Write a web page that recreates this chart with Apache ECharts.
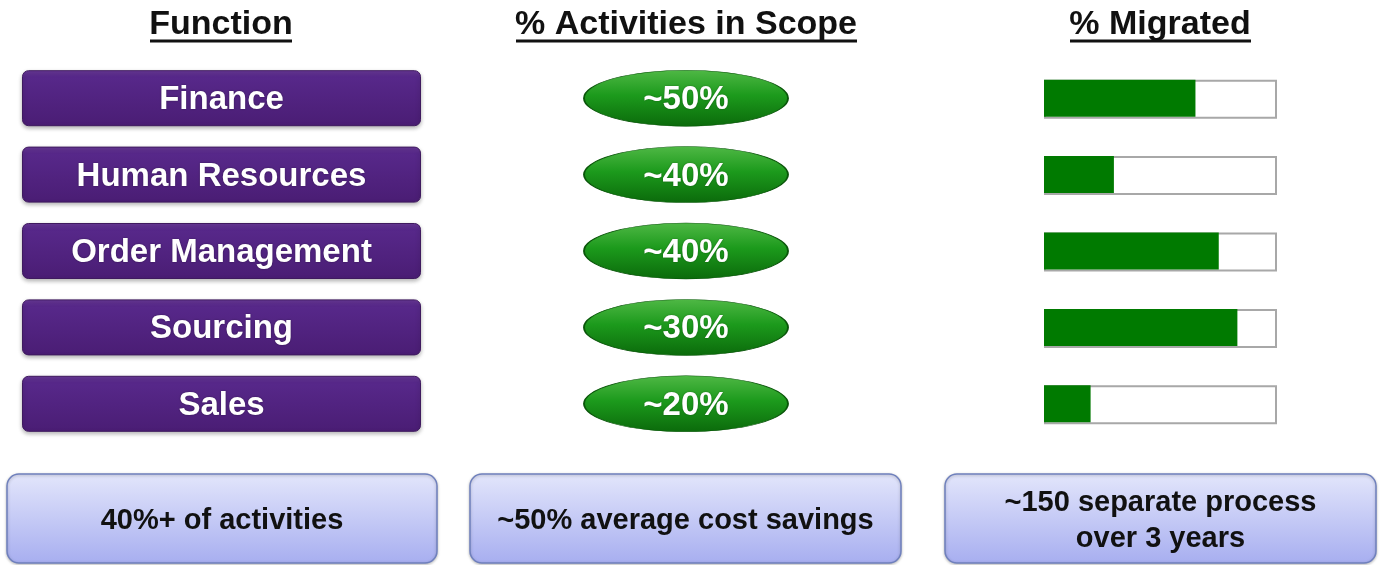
<!DOCTYPE html>
<html>
<head>
<meta charset="utf-8">
<script src="https://cdn.jsdelivr.net/npm/echarts@6/dist/echarts.min.js"></script>
<style>
  html, body { margin: 0; padding: 0; background: #fff; }
  #main { width: 1382px; height: 565px; }
</style>
</head>
<body>
<div id="main"></div>
<script>
// data
var functions = ['Finance', 'Human Resources', 'Order Management', 'Sourcing', 'Sales']
var scopePct = [50, 40, 40, 30, 20]          // % activities in scope (approx.)
var migratedPct = [65, 30, 75, 83, 20]       // % migrated
var headers = ['Function', '% Activities in Scope', '% Migrated']
var notes = ['40%+ of activities', '~50% average cost savings', '~150 separate process\nover 3 years']

var FONT = '"Liberation Sans", Arial, sans-serif'
var rowTop = 60, rowHeight = 382

var chart = echarts.init(document.getElementById('main'))

function hiddenCat(idx) {
  return { gridIndex: idx, type: 'category', data: functions, inverse: true, show: false }
}
function hiddenVal(idx, max) {
  return { gridIndex: idx, type: 'value', min: 0, max: max, show: false }
}

var headerX = [221, 686, 1160]
var underline = [[150, 292], [516, 857], [1070, 1251]]

var graphics = []
headers.forEach(function (h, i) {
  graphics.push({
    type: 'text', x: headerX[i], y: 25,
    style: { text: h, x: 0, y: 0, align: 'center', verticalAlign: 'middle',
             font: 'bold 34px ' + FONT, fill: '#111' }
  })
  graphics.push({
    type: 'line', shape: { x1: underline[i][0], y1: 41, x2: underline[i][1], y2: 41 },
    style: { stroke: '#111', lineWidth: 3 }
  })
})

var noteBoxes = [[7, 430], [470, 431], [945, 431]]
notes.forEach(function (t, i) {
  graphics.push({
    type: 'group', x: noteBoxes[i][0], y: 474,
    children: [
      { type: 'rect', shape: { x: 0, y: 0, width: noteBoxes[i][1], height: 89, r: 12 },
        style: {
          fill: new echarts.graphic.LinearGradient(0, 0, 0, 1, [
            { offset: 0, color: '#e3e6fb' }, { offset: 1, color: '#a7aef0' }
          ]),
          stroke: '#6f80bd', lineWidth: 1.5,
          shadowBlur: 3, shadowColor: 'rgba(0,0,0,0.25)', shadowOffsetY: 1
        } },
      { type: 'text', x: noteBoxes[i][1] / 2, y: 47,
        style: { text: t, x: 0, y: 0, align: 'center', verticalAlign: 'middle',
                 font: 'bold 29px ' + FONT, fill: '#111', lineHeight: 36 } }
    ]
  })
})

chart.setOption({
  animation: false,
  grid: [
    { left: 22, width: 399, top: rowTop, height: rowHeight },
    { left: 584, width: 204, top: rowTop, height: rowHeight },
    { left: 1044, width: 233, top: rowTop, height: rowHeight }
  ],
  xAxis: [hiddenVal(0, 1), hiddenVal(1, 1), hiddenVal(2, 100)],
  yAxis: [hiddenCat(0), hiddenCat(1), hiddenCat(2)],
  graphic: graphics,
  series: [
    {
      // purple function boxes
      type: 'bar', xAxisIndex: 0, yAxisIndex: 0,
      data: functions.map(function () { return 1 }),
      barWidth: 56,
      itemStyle: {
        color: new echarts.graphic.LinearGradient(0, 0, 0, 1, [
          { offset: 0, color: '#6a3a98' }, { offset: 0.12, color: '#57288a' },
          { offset: 1, color: '#4a1d74' }
        ]),
        borderColor: '#3f1a5f', borderWidth: 1, borderRadius: 6,
        shadowBlur: 4, shadowColor: 'rgba(0,0,0,0.3)', shadowOffsetY: 2
      },
      label: {
        show: true, position: 'inside', formatter: '{b}', offset: [0, 2],
        color: '#fff', fontFamily: FONT, fontWeight: 'bold', fontSize: 33,
        textShadowColor: 'rgba(0,0,0,0.4)', textShadowBlur: 2
      }
    },
    {
      // green ellipses
      type: 'scatter', xAxisIndex: 1, yAxisIndex: 1,
      data: scopePct.map(function (v, i) { return [0.5, i, v] }),
      symbol: 'path://M0,50 A100,50 0 1,1 200,50 A100,50 0 1,1 0,50 Z',
      symbolKeepAspect: false,
      symbolSize: [204, 56],
      itemStyle: {
        color: new echarts.graphic.LinearGradient(0, 0, 0, 1, [
          { offset: 0, color: '#4fb845' }, { offset: 0.45, color: '#1c9a1c' },
          { offset: 1, color: '#0b6a0b' }
        ]),
        borderColor: '#0a560a', borderWidth: 1, opacity: 1
      },
      label: {
        show: true, position: 'inside', offset: [0, 2],
        formatter: function (p) { return '~' + p.value[2] + '%' },
        color: '#fff', fontFamily: FONT, fontWeight: 'bold', fontSize: 33,
        textShadowColor: 'rgba(0,0,0,0.35)', textShadowBlur: 2
      }
    },
    {
      // empty track of migration bars
      type: 'bar', xAxisIndex: 2, yAxisIndex: 2,
      data: functions.map(function () { return 100 }),
      barWidth: 39, barGap: '-100%', silent: true,
      itemStyle: { color: '#fff', borderColor: '#a8a8a8', borderWidth: 2 }
    },
    {
      type: 'bar', xAxisIndex: 2, yAxisIndex: 2,
      data: migratedPct,
      barWidth: 37, barGap: '-100%',
      itemStyle: { color: '#007a00' }
    }
  ]
})
</script>
</body>
</html>
